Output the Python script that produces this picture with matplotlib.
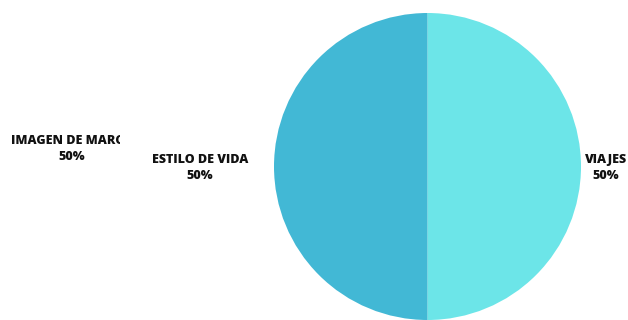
import matplotlib
matplotlib.use('Agg')
import matplotlib.pyplot as plt
from matplotlib.transforms import Bbox

plt.rcParams['font.family'] = ['Open Sans', 'DejaVu Sans']

# slice data (clockwise from 12 o'clock)
categories = ['VIAJES', 'ESTILO DE VIDA']
shares = [50, 50]
colors = ['#6ce5e8', '#42b8d5']

# an extra label left over on the canvas
extra_label = 'IMAGEN DE MARCA'
extra_share = 50

W, H = 628, 320
fig = plt.figure(figsize=(W / 100, H / 100), dpi=100)
ax = fig.add_axes([0, 0, 1, 1])

cx, cy, r = 427.5, H - 166.5, 153.5
ax.pie(shares, colors=colors, startangle=90, counterclock=False,
       center=(cx, cy), radius=r, frame=True,
       wedgeprops=dict(linewidth=0))
ax.set_xlim(0, W)
ax.set_ylim(0, H)
ax.set_aspect('equal')
ax.axis('off')

txt = dict(ha='center', va='center', fontsize=9, fontweight='heavy',
           color='#111111', linespacing=1.35)

pct = [s / sum(shares) * 100 for s in shares]
label_pos = [(606, H - 168), (200, H - 168)]
for name, p, (x, y) in zip(categories, pct, label_pos):
    ax.text(x, y, f'{name}\n{p:.0f}%', **txt)

t = ax.text(72, H - 149, f'{extra_label}\n{extra_share}%', **txt)
t.set_clip_box(Bbox([[0, 0], [120, H]]))
t.set_clip_on(True)

fig.savefig('out.png', dpi=100, facecolor='white')
